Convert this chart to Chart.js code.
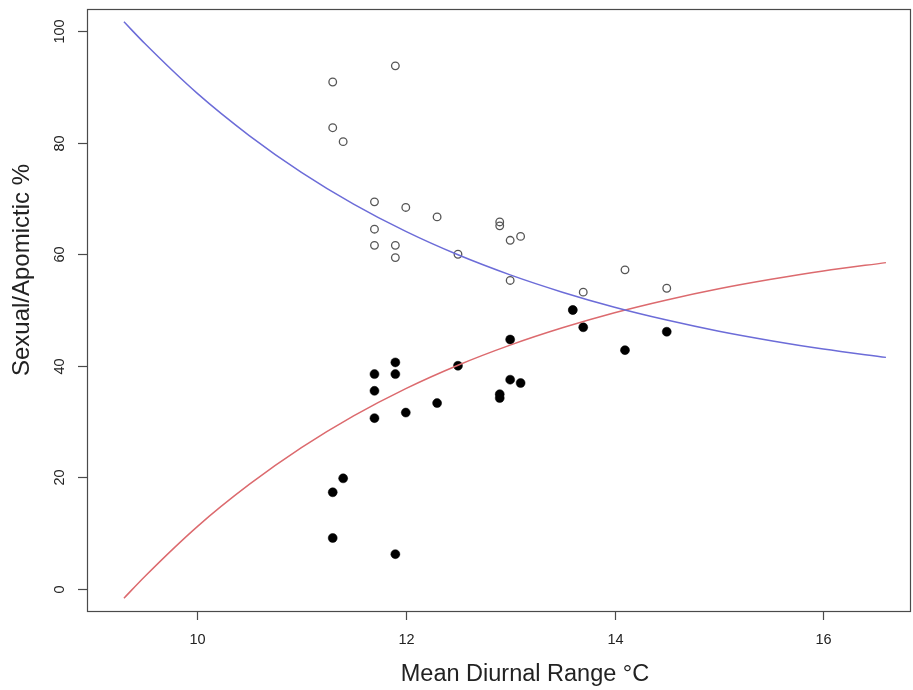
<!DOCTYPE html>
<html>
<head>
<meta charset="utf-8">
<script src="https://cdn.jsdelivr.net/npm/chart.js@4/dist/chart.umd.min.js"></script>
<style>
html,body{margin:0;padding:0;background:#fff;}
canvas{display:block;}
</style>
</head>
<body>
<canvas id="c" width="913" height="690"></canvas>
<script>
// Data
const sitesX = [11.3, 11.9, 11.3, 11.4, 11.7, 12.0, 12.3, 12.9, 12.9, 11.7, 13.0, 13.1, 11.7, 11.9, 11.9, 12.5, 13.0, 14.1, 13.7, 14.5, 13.6];
const sexualPct = [90.9, 93.8, 82.7, 80.2, 69.4, 68.4, 66.7, 65.8, 65.1, 64.5, 62.5, 63.2, 61.6, 61.6, 59.4, 60.0, 55.3, 57.2, 53.2, 53.9, 50.0];
const apomicticPct = [9.1, 6.2, 17.3, 19.8, 30.6, 31.6, 33.3, 34.2, 34.9, 35.5, 37.5, 36.9, 38.5, 38.5, 40.6, 40.0, 44.7, 42.8, 46.9, 46.1, 50.0];

const curveX = [9.3, 9.5, 10, 10.5, 11, 11.5, 12, 12.5, 13, 13.5, 14, 14.5, 15, 15.5, 16, 16.6];
const sexualFit = [101.7, 97.8, 88.9, 81.3, 74.7, 69.0, 64.1, 59.9, 56.3, 53.2, 50.5, 48.2, 46.2, 44.5, 43.0, 41.5];
const apomicticFit = [-1.7, 2.2, 11.1, 18.7, 25.3, 31.0, 35.9, 40.1, 43.7, 46.8, 49.5, 51.8, 53.8, 55.5, 57.0, 58.5];

const xTicks = [10, 12, 14, 16];
const yTicks = [0, 20, 40, 60, 80, 100];
const xTitle = 'Mean Diurnal Range °C';
const yTitle = 'Sexual/Apomictic %';

const pts = (xs, ys) => xs.map((x, i) => ({x: x, y: ys[i]}));

const FONT = '"Liberation Sans", Arial, Helvetica, sans-serif';
const AXIS = '#4a4a4a';
const TEXT = '#222222';

const rAxes = {
  id: 'rAxes',
  afterDraw(chart) {
    const ctx = chart.ctx;
    const a = chart.chartArea;
    const xs = chart.scales.x, ys = chart.scales.y;
    ctx.save();
    ctx.strokeStyle = AXIS;
    ctx.lineWidth = 1.2;
    ctx.strokeRect(a.left + 0.5, a.top + 0.5, a.right - a.left - 1, a.bottom - a.top);
    // x ticks
    ctx.fillStyle = TEXT;
    ctx.font = '14.5px ' + FONT;
    ctx.textAlign = 'center';
    ctx.textBaseline = 'middle';
    xTicks.forEach(v => {
      const px = Math.round(xs.getPixelForValue(v)) + 0.5;
      ctx.beginPath();
      ctx.moveTo(px, a.bottom);
      ctx.lineTo(px, a.bottom + 9);
      ctx.stroke();
      ctx.fillText(String(v), px, a.bottom + 29);
    });
    // y ticks (labels rotated like R's default)
    yTicks.forEach(v => {
      const py = Math.round(ys.getPixelForValue(v)) + 0.5;
      ctx.beginPath();
      ctx.moveTo(a.left - 9, py);
      ctx.lineTo(a.left, py);
      ctx.stroke();
      ctx.save();
      ctx.translate(a.left - 27, py);
      ctx.rotate(-Math.PI / 2);
      ctx.fillText(String(v), 0, 0);
      ctx.restore();
    });
    // titles
    ctx.font = '23.5px ' + FONT;
    ctx.fillText(xTitle, 525, 675);
    ctx.save();
    ctx.translate(22, 270);
    ctx.rotate(-Math.PI / 2);
    ctx.font = '24px ' + FONT;
    ctx.fillText(yTitle, 0, 0);
    ctx.restore();
    ctx.restore();
  }
};

new Chart(document.getElementById('c'), {
  type: 'scatter',
  data: {
    datasets: [
      {
        label: 'Sexual fit',
        data: pts(curveX, sexualFit),
        showLine: true,
        borderColor: '#6c6cd8',
        borderWidth: 1.5,
        pointRadius: 0,
        cubicInterpolationMode: 'monotone',
        order: 0
      },
      {
        label: 'Apomictic fit',
        data: pts(curveX, apomicticFit),
        showLine: true,
        borderColor: '#dc6a6e',
        borderWidth: 1.5,
        pointRadius: 0,
        cubicInterpolationMode: 'monotone',
        order: 0
      },
      {
        label: 'Apomictic %',
        data: pts(sitesX, apomicticPct),
        pointRadius: 4.5,
        pointBackgroundColor: '#000',
        pointBorderColor: '#000',
        pointBorderWidth: 0.5,
        order: 1
      },
      {
        label: 'Sexual %',
        data: pts(sitesX, sexualPct),
        pointRadius: 3.8,
        pointBackgroundColor: 'rgba(255,255,255,0)',
        pointBorderColor: '#555',
        pointBorderWidth: 1.3,
        order: 2
      }
    ]
  },
  options: {
    responsive: false,
    animation: false,
    devicePixelRatio: 1,
    layout: {autoPadding: false, padding: {left: 87, top: 9, right: 2, bottom: 79}},
    plugins: {legend: {display: false}, tooltip: {enabled: false}},
    scales: {
      x: {type: 'linear', min: 8.946, max: 16.84, display: false},
      y: {type: 'linear', min: -4, max: 104, display: false}
    }
  },
  plugins: [rAxes]
});
</script>
</body>
</html>
